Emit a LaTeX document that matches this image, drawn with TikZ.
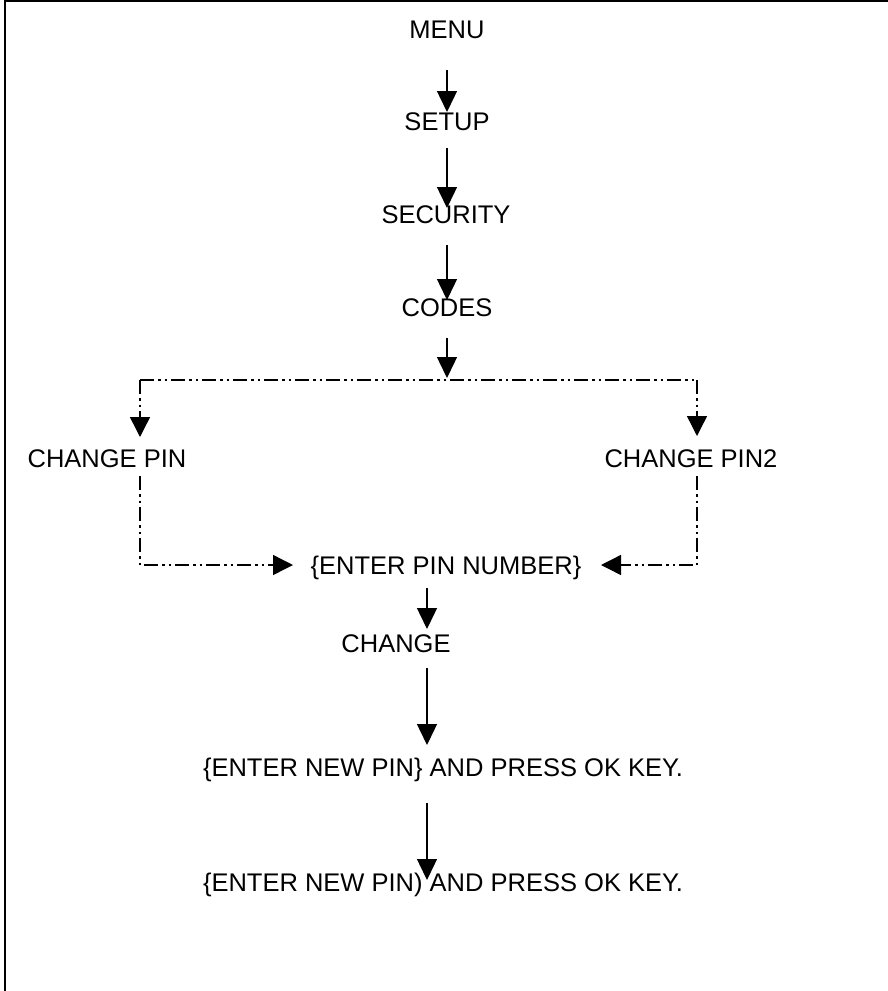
\documentclass[tikz,border=0pt]{standalone}
\usepackage{fontspec}
\setmainfont{Liberation Sans}
\usetikzlibrary{arrows.meta}
\begin{document}
\begin{tikzpicture}[x=1pt,y=-1pt,
  lbl/.style={font=\fontsize{25.5}{30}\selectfont, inner sep=0pt, text height=18.3pt, text depth=0pt},
  arr/.style={line width=1.4pt, -{Triangle[length=21pt,width=20pt]}},
  dd/.style={line width=1.4pt, dash pattern=on 14pt off 4pt on 2.5pt off 4pt on 2.5pt off 4pt},
  ddarr/.style={dd, -{Triangle[length=20pt,width=20pt]}}]
\useasboundingbox (0,0) rectangle (888,991);
% frame (top and left only)
\draw[line width=2.5pt] (5,991) -- (5,1.2) -- (888,1.2);
% nodes
\node[lbl] (menu) at (447,29) {MENU};
\node[lbl] (setup) at (447,121) {SETUP};
\node[lbl] (security) at (446,214) {SECURITY};
\node[lbl] (codes) at (447,307) {CODES};
\node[lbl] (cp) at (107,458) {CHANGE PIN};
\node[lbl] (cp2) at (691,458) {CHANGE PIN2};
\node[lbl] (enter) at (446,565) {\{ENTER PIN NUMBER\}};
\node[lbl] (change) at (396,643) {CHANGE};
\node[lbl] (new1) at (443,767) {\{ENTER NEW PIN\} AND PRESS OK KEY.};
\node[lbl] (new2) at (443,882) {\{ENTER NEW PIN) AND PRESS OK KEY.};
\coordinate (L1) at (140,380);
\coordinate (R1) at (697,380);
\coordinate (spine) at (427,0);
% solid arrows
\draw[arr, shorten <=41pt, shorten >=9pt] (menu.center) -- (setup.center);
\draw[arr, shorten <=27pt, shorten >=6pt] (setup.center) -- (setup.center |- security.center);
\draw[arr, shorten <=31pt, shorten >=7pt] (setup.center |- security.center) -- (setup.center |- codes.center);
\draw[arr, shorten <=31pt, shorten >=2pt] (codes.center) -- (codes.center |- L1);
% dash-dot branches
\draw[dd] (L1) -- (R1);
\draw[ddarr, shorten >=21pt] (L1) -- (L1 |- cp.center);
\draw[ddarr, shorten >=22pt] (R1) -- (R1 |- cp2.center);
\draw[ddarr, shorten <=18pt, shorten >=153pt] (L1 |- cp.center) -- (L1 |- enter.center) -- (enter.center);
\draw[ddarr, shorten <=18pt, shorten >=155pt] (R1 |- cp2.center) -- (R1 |- enter.center) -- (enter.center);
% lower spine
\draw[arr, shorten <=23pt, shorten >=14pt] (spine |- enter.center) -- (spine |- change.center);
\draw[arr, shorten <=25pt, shorten >=22pt] (spine |- change.center) -- (spine |- new1.center);
\draw[arr, shorten <=36pt, shorten >=2pt] (spine |- new1.center) -- (spine |- new2.center);
\end{tikzpicture}
\end{document}
